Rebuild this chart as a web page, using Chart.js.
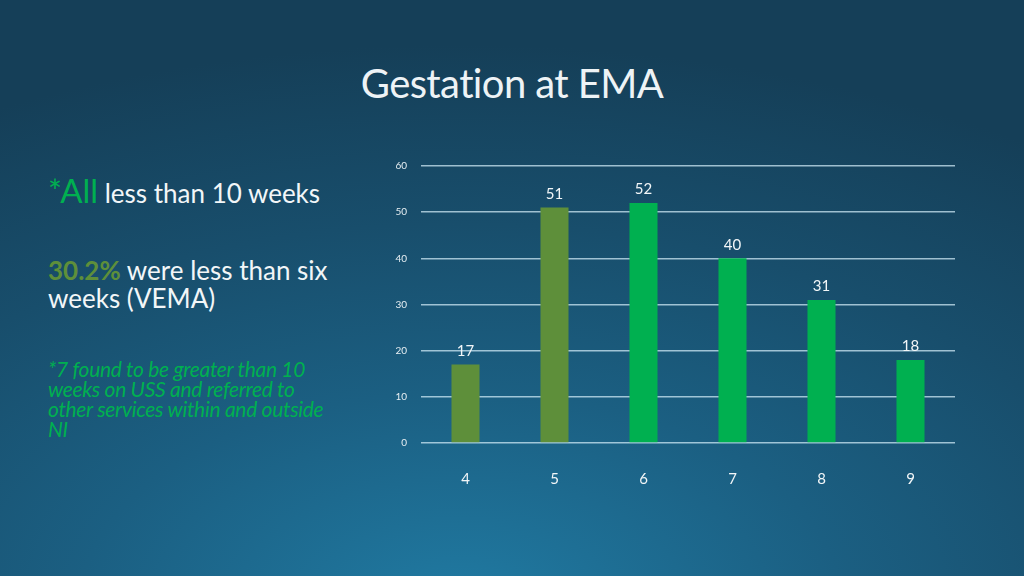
<!DOCTYPE html>
<html>
<head>
<meta charset="utf-8">
<script src="https://cdn.jsdelivr.net/npm/chart.js@4"></script>
<style>
  html, body { margin: 0; padding: 0; }
  body {
    width: 1024px; height: 576px; overflow: hidden; position: relative;
    font-family: Lato, "Open Sans", sans-serif;
    background: radial-gradient(ellipse 1000px 560px at 45% 105%, #207aa2 0%, #1b5f82 38%, #184e6c 68%, #153f58 100%);
  }
  #title {
    position: absolute; left: 0; width: 1024px; top: 59px; text-align: center;
    color: #eef3f6; font-size: 40px; letter-spacing: -0.6px;
  }
  .txt { position: absolute; left: 48px; color: #f2f6f8; font-size: 26px; white-space: nowrap; }
  .green { color: #00b050; }
  .olive { color: #5e8f3a; font-weight: bold; }
  #note {
    position: absolute; left: 48px; top: 359px; white-space: nowrap;
    color: #00b050; font-style: italic; font-size: 21px; line-height: 20px; letter-spacing: -0.3px;
  }
  #wrap { position: absolute; left: 380px; top: 140px; width: 575px; height: 360px; }
</style>
</head>
<body>
<div id="title">Gestation at EMA</div>
<div class="txt" style="top:170px;"><span class="green" style="font-size:33px;">*All</span> less than 10 weeks</div>
<div class="txt" style="top:256px; line-height:28px;"><span class="olive">30.2%</span> were less than six<br>weeks (VEMA)</div>
<div id="note">*7 found to be greater than 10<br>weeks on USS and referred to<br>other services within and outside<br>NI</div>
<div id="wrap"><canvas id="myChart"></canvas></div>
<script>
// weeks of gestation
var weeks = ['4', '5', '6', '7', '8', '9'];
var counts = [17, 51, 52, 40, 31, 18];
var barColors = ['#5e8f3a', '#5e8f3a', '#00b050', '#00b050', '#00b050', '#00b050'];
var yTicks = [0, 10, 20, 30, 40, 50, 60];

// valeurs au-dessus des barres
var valueLabels = {
    id: 'valueLabels',
    afterDatasetsDraw: function (chart) {
        var ctx = chart.ctx;
        var meta = chart.getDatasetMeta(0);
        ctx.save();
        ctx.fillStyle = '#f2f6f8';
        ctx.font = '15px Lato, "Open Sans", sans-serif';
        ctx.textAlign = 'center';
        ctx.textBaseline = 'bottom';
        meta.data.forEach(function (bar, i) {
            ctx.fillText(counts[i], bar.x, bar.y - 6);
        });
        ctx.restore();
    }
};

var ctx = document.getElementById('myChart').getContext('2d');
new Chart(ctx, {
    type: 'bar',
    data: {
        labels: weeks,
        datasets: [{
            data: counts,
            backgroundColor: barColors,
            borderWidth: 0,
            barPercentage: 1,
            categoryPercentage: 0.315
        }]
    },
    options: {
        responsive: true,
        maintainAspectRatio: false,
        animation: false,
        layout: { padding: { top: 26, right: 0, left: 0, bottom: 0 } },
        plugins: { legend: { display: false }, tooltip: { enabled: false } },
        scales: {
            x: {
                grid: { display: false },
                border: { display: false },
                ticks: { color: '#f2f6f8', padding: 19, font: { size: 15, family: 'Lato' } },
                afterFit: function (scale) { scale.height = 57; }
            },
            y: {
                min: 0,
                max: 60,
                afterBuildTicks: function (scale) {
                    scale.ticks = yTicks.map(function (v) { return { value: v }; });
                },
                grid: { color: 'rgba(205, 232, 244, 0.75)', lineWidth: 1.5, drawTicks: false },
                border: { display: false },
                ticks: { color: '#e6eef2', padding: 14, font: { size: 10, family: 'Lato' } },
                afterFit: function (scale) { scale.width = 41; }
            }
        }
    },
    plugins: [valueLabels]
});
</script>
</body>
</html>
